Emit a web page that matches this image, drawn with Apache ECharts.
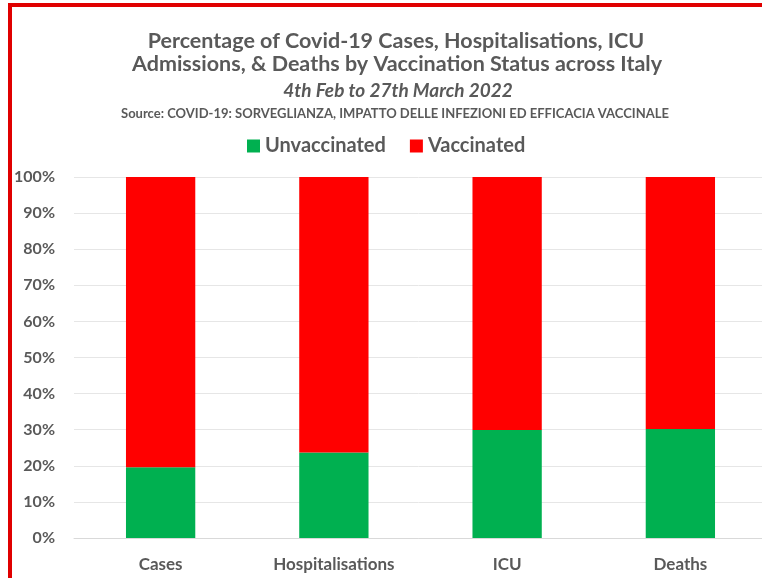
<!DOCTYPE html>
<html>
<head>
<meta charset="utf-8">
<script src="https://cdn.jsdelivr.net/npm/echarts@6/dist/echarts.min.js"></script>
<style>
  html, body { margin: 0; padding: 0; background: #fff; }
  #chart { width: 762px; height: 578px; }
</style>
</head>
<body>
<div id="chart"></div>
<script>
// categories and values
const categories = ['Cases', 'Hospitalisations', 'ICU', 'Deaths']
const unvaccinated = [19.6, 23.7, 29.9, 30.2]
const vaccinated = [80.4, 76.3, 70.1, 69.8]
const seriesNames = ['Unvaccinated', 'Vaccinated']

const textGrey = '#595959'
const font = 'Lato'

const chart = echarts.init(document.getElementById('chart'))
const option = {
  animation: false,
  textStyle: { fontFamily: font },
  title: [
    {
      text: 'Percentage of Covid-19 Cases, Hospitalisations, ICU',
      left: 391, top: 25, textAlign: 'center',
      textStyle: { fontFamily: font, fontSize: 21.5, fontWeight: 'bold', color: textGrey }
    },
    {
      text: 'Admissions, & Deaths by Vaccination Status across Italy',
      left: 392, top: 48, textAlign: 'center',
      textStyle: { fontFamily: font, fontSize: 21.5, fontWeight: 'bold', color: textGrey }
    },
    {
      text: '4th Feb to 27th March 2022',
      left: 393, top: 76, textAlign: 'center',
      textStyle: { fontFamily: font, fontSize: 19, fontStyle: 'italic', fontWeight: 'bold', color: textGrey }
    },
    {
      text: 'Source: COVID-19: SORVEGLIANZA, IMPATTO DELLE INFEZIONI ED EFFICACIA VACCINALE',
      left: 390, top: 102, textAlign: 'center',
      textStyle: { fontFamily: font, fontSize: 13, fontWeight: 'bold', color: textGrey }
    }
  ],
  legend: {
    data: seriesNames,
    left: 242, top: 131,
    itemWidth: 13, itemHeight: 13, itemGap: 24,
    icon: 'rect',
    textStyle: { fontFamily: font, fontSize: 20, fontWeight: 'bold', color: textGrey }
  },
  graphic: [
    {
      type: 'rect',
      shape: { x: 10, y: 5, width: 800, height: 620 },
      style: { fill: 'none', stroke: '#e00000', lineWidth: 4 },
      silent: true
    }
  ],
  grid: { left: 74, right: -5, top: 177, bottom: 40, outerBoundsMode: 'none' },
  xAxis: {
    type: 'category',
    data: categories,
    axisLine: { lineStyle: { color: '#d9d9d9' } },
    axisTick: { show: false },
    axisLabel: { fontFamily: font, fontSize: 17, fontWeight: 'bold', color: textGrey, margin: 18 }
  },
  yAxis: {
    type: 'value',
    min: 0, max: 100, interval: 10,
    axisLine: { show: false },
    axisTick: { show: false },
    splitLine: { lineStyle: { color: '#e6e6e6' } },
    axisLabel: { fontFamily: font, fontSize: 16, fontWeight: 'bold', color: textGrey, margin: 19, formatter: '{value}%' }
  },
  series: [
    {
      name: seriesNames[0], type: 'bar', stack: 'total', barWidth: '40%',
      itemStyle: { color: '#00b050' },
      data: unvaccinated
    },
    {
      name: seriesNames[1], type: 'bar', stack: 'total', barWidth: '40%',
      itemStyle: { color: '#ff0000' },
      data: vaccinated
    }
  ]
}
chart.setOption(option)
</script>
</body>
</html>
